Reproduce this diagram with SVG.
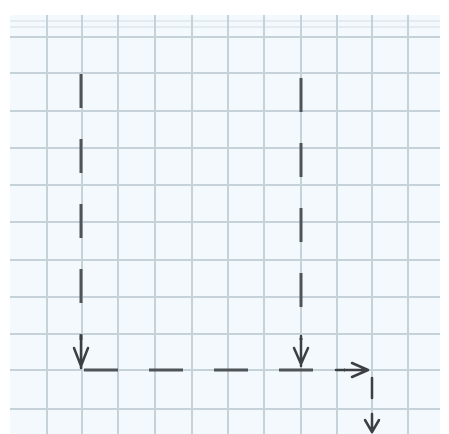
<svg xmlns="http://www.w3.org/2000/svg" width="449" height="434" viewBox="0 0 449 434">
<style>
.g{stroke:#c6d2da;stroke-width:2;fill:none}
.gf{stroke:#dfe7ec;stroke-width:1.5;fill:none}
.c{stroke:#4f5458;stroke-width:3;fill:none;stroke-dasharray:34 31}
.h{stroke:#3c4044;stroke-width:2.5;fill:none;stroke-linecap:round;stroke-linejoin:round}
</style>
<rect x="0" y="0" width="449" height="434" fill="#ffffff"/>
<rect x="10" y="15" width="430" height="419" fill="#f3f9fc"/>
<g id="grid">
<path class="gf" d="M10 21H440M10 27H440"/>
<path class="g" d="M10 37H440M10 73H440M10 111H440M10 148H440M10 185H440M10 222H440M10 260H440M10 297H440M10 334H440M10 370H440M10 409H440"/>
<path class="g" d="M47 15V434M82 15V434M118 15V434M155 15V434M192 15V434M228 15V434M264 15V434M301 15V434M337 15V434M372 15V434M408 15V434"/>
</g>
<g id="connectors">
<path class="c" d="M81 74V340"/>
<path class="h" d="M81 336V368M74 348L81 366L88 348"/>
<path class="c" d="M301 78V340"/>
<path class="h" d="M301 336V366M294 348L301 364L308 348"/>
<path class="c" d="M84 370H345"/>
<path class="h" d="M336 370H367M352 363L368 370L352 377"/>
<path class="h" d="M372 378V398"/>
<path class="h" d="M372 414V432M365 420L372 432L379 420"/>
</g>
</svg>
